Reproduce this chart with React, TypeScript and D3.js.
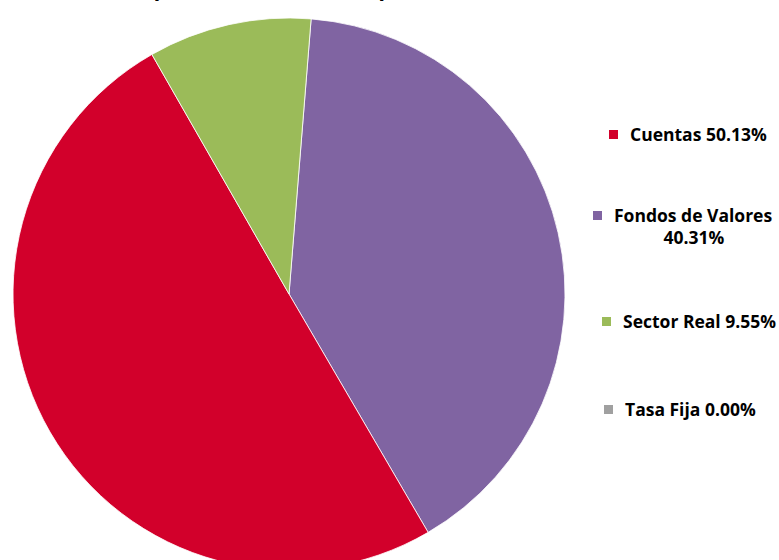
import React, { useEffect, useRef } from 'react';
import * as d3 from 'd3';

// legend order
const categories = ['Cuentas', 'Fondos de Valores', 'Sector Real', 'Tasa Fija'];
const shares = [50.13, 40.31, 9.55, 0.0];
const colors = ['#D2002B', '#8064A2', '#9BBB59', '#A0A0A0'];
// order of slices clockwise from the top
const sliceOrder = ['Fondos de Valores', 'Cuentas', 'Sector Real', 'Tasa Fija'];
const title = 'Composición del Activo por Producto';

const W = 779;
const H = 560;

const App: React.FC = () => {
  const ref = useRef<SVGSVGElement>(null);

  useEffect(() => {
    const svg = d3.select(ref.current);
    svg.selectAll('*').remove();

    const font = '"Open Sans", Lato, sans-serif';

    // title, mostly cut off above the frame
    svg
      .append('text')
      .attr('x', 100)
      .attr('y', -3)
      .attr('font-family', 'Lato, sans-serif')
      .attr('font-weight', 'bold')
      .attr('font-size', 26)
      .attr('fill', '#000')
      .text(title);

    const data = sliceOrder.map((name) => ({
      name,
      value: shares[categories.indexOf(name)],
      color: colors[categories.indexOf(name)],
    }));

    const cx = 289;
    const cy = 294;
    const radius = 276;

    const pie = d3
      .pie<{ name: string; value: number; color: string }>()
      .sort(null)
      .value((d) => d.value)
      .startAngle((4.6 * Math.PI) / 180)
      .endAngle((4.6 * Math.PI) / 180 + 2 * Math.PI);

    const arc = d3
      .arc<d3.PieArcDatum<{ name: string; value: number; color: string }>>()
      .innerRadius(0)
      .outerRadius(radius);

    const g = svg.append('g').attr('transform', `translate(${cx}, ${cy})`);
    g.selectAll('path')
      .data(pie(data).filter((d) => d.value > 0))
      .enter()
      .append('path')
      .attr('d', arc)
      .attr('fill', (d) => d.data.color)
      .attr('stroke', '#fff')
      .attr('stroke-width', 0.8);

    // legend
    const legendItems = [
      { sx: 609, sy: 130, tx: 630 },
      { sx: 593, sy: 211, tx: 614 },
      { sx: 602, sy: 317, tx: 623 },
      { sx: 604, sy: 405, tx: 625 },
    ];

    const leg = svg.append('g');
    legendItems.forEach((item, i) => {
      leg
        .append('rect')
        .attr('x', item.sx)
        .attr('y', item.sy)
        .attr('width', 9)
        .attr('height', 9)
        .attr('fill', colors[i]);
      const t = leg
        .append('text')
        .attr('font-family', font)
        .attr('font-weight', 'bold')
        .attr('font-size', 17.5)
        .attr('fill', '#000');
      t.append('tspan')
        .attr('x', item.tx)
        .attr('y', item.sy + 11)
        .text(i === 1 ? categories[i] : `${categories[i]} ${shares[i].toFixed(2)}%`);
      if (i === 1) {
        t.append('tspan')
          .attr('x', 694)
          .attr('y', item.sy + 33)
          .attr('text-anchor', 'middle')
          .text(`${shares[i].toFixed(2)}%`);
      }
    });
  }, []);

  return (
    <svg
      ref={ref}
      width={W}
      height={H}
      style={{ position: 'absolute', left: 0, top: 0, display: 'block', background: '#fff' }}
    />
  );
};

export default App;
